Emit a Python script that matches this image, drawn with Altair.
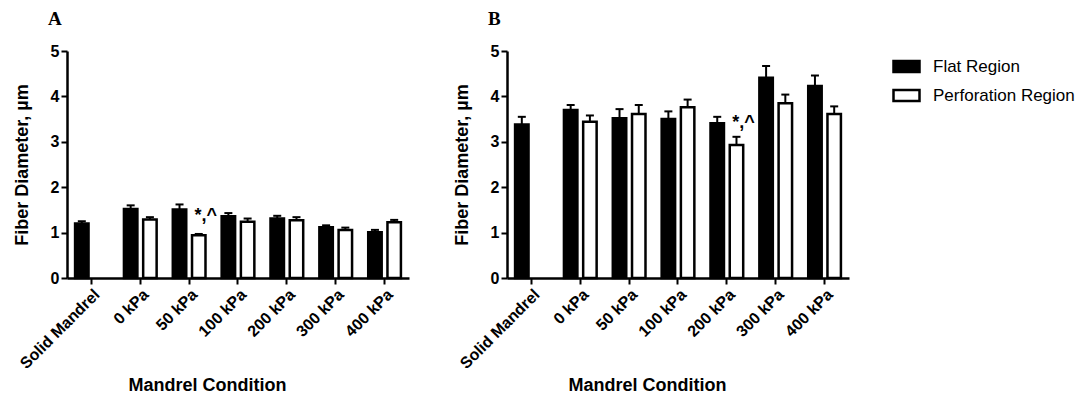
import altair as alt
import pandas as pd

conditions = ["Solid Mandrel", "0 kPa", "50 kPa", "100 kPa", "200 kPa", "300 kPa", "400 kPa"]
regions = ["Flat Region", "Perforation Region"]

# Panel A
flat_A = [1.20, 1.52, 1.51, 1.36, 1.31, 1.12, 1.01]
flat_A_err = [0.05, 0.08, 0.11, 0.07, 0.06, 0.04, 0.05]
perf_A = [None, 1.29, 0.94, 1.24, 1.27, 1.06, 1.23]
perf_A_err = [None, 0.05, 0.03, 0.07, 0.07, 0.05, 0.05]
ann_A = {"cond": "50 kPa", "y": 1.25, "text": "*,^"}

# Panel B
flat_B = [3.38, 3.70, 3.52, 3.50, 3.41, 4.41, 4.23]
flat_B_err = [0.17, 0.11, 0.20, 0.17, 0.14, 0.26, 0.23]
perf_B = [None, 3.44, 3.61, 3.76, 2.93, 3.85, 3.61]
perf_B_err = [None, 0.14, 0.20, 0.17, 0.18, 0.19, 0.17]
ann_B = {"cond": "200 kPa", "y": 3.30, "text": "*,^"}

FONT = "Liberation Sans"


def make_df(flat, flat_err, perf, perf_err):
    rows = []
    for c, v, e in zip(conditions, flat, flat_err):
        rows.append({"cond": c, "region": regions[0], "value": v, "upper": v + e})
    for c, v, e in zip(conditions, perf, perf_err):
        if v is None:
            continue
        rows.append({"cond": c, "region": regions[1], "value": v, "upper": v + e})
    return pd.DataFrame(rows)


def panel(df, ann, letter, show_legend):
    x = alt.X(
        "cond:N",
        sort=conditions,
        scale=alt.Scale(paddingInner=0, paddingOuter=0),
        axis=alt.Axis(
            title="Mandrel Condition",
            labelAngle=-45,
            titleX=140,
            titleY=112,
            titleBaseline="alphabetic",
            titleAlign="center",
        ),
    )
    xo = alt.XOffset(
        "region:N",
        sort=regions,
        scale=alt.Scale(domain=regions, paddingInner=0.3, paddingOuter=0.42),
    )
    yaxis = alt.Axis(
        title="Fiber Diameter, µm",
        values=[0, 1, 2, 3, 4, 5],
        titleX=-40,
        titleY=113.5,
        titleBaseline="alphabetic",
        titleAlign="center",
    )
    y = alt.Y("value:Q", scale=alt.Scale(domain=[0, 5], nice=False), axis=yaxis)
    if show_legend:
        legend = alt.Legend(
            title=None,
            orient="none",
            legendX=385,
            legendY=1,
            padding=0,
            symbolType="M-1,-0.42H1V0.42H-1Z",
            symbolSize=676,
            symbolStrokeColor="black",
            symbolStrokeWidth=2.5,
            labelFont=FONT,
            labelFontSize=17,
            labelFontWeight="normal",
            labelColor="black",
            labelOffset=12,
            rowPadding=4,
        )
    else:
        legend = None
    fill = alt.Fill(
        "region:N",
        scale=alt.Scale(domain=regions, range=["black", "white"]),
        legend=legend,
    )
    bars = alt.Chart(df).mark_bar(stroke="black", strokeWidth=2.5).encode(
        x=x, xOffset=xo, y=y, fill=fill
    )
    rules = alt.Chart(df).mark_rule(color="black", strokeWidth=2).encode(
        x=x, xOffset=xo, y="value:Q", y2="upper:Q"
    )
    caps = alt.Chart(df).mark_tick(color="black", size=8, thickness=2, opacity=1).encode(
        x=x, xOffset=xo, y="upper:Q"
    )
    ann_df = pd.DataFrame([{"cond": ann["cond"], "region": regions[1], "y": ann["y"], "text": ann["text"]}])
    text = alt.Chart(ann_df).mark_text(
        font=FONT, fontSize=18, fontWeight="bold", color="black",
        align="center", baseline="alphabetic", dx=7,
    ).encode(x=x, xOffset=xo, y="y:Q", text="text:N")
    return alt.layer(bars, rules, caps, text).properties(
        width=342,
        height=227,
        title=alt.TitleParams(
            letter, anchor="start", frame="group", font="Liberation Serif", fontSize=19,
            fontWeight="bold", color="black", dx=-19, offset=-1, baseline="alphabetic",
        ),
    )


dfA = make_df(flat_A, flat_A_err, perf_A, perf_A_err)
dfB = make_df(flat_B, flat_B_err, perf_B, perf_B_err)

chart = alt.hconcat(
    panel(dfA, ann_A, "A", False),
    panel(dfB, ann_B, "B", True),
    spacing=43,
).resolve_scale(fill="independent").properties(
    padding={"left": 12, "top": 10, "right": 0, "bottom": 0}
).configure_view(stroke=None).configure_axis(
    domainColor="black",
    domainWidth=2.5,
    tickColor="black",
    tickWidth=2,
    tickSize=6,
    labelFont=FONT,
    labelFontSize=16,
    labelFontWeight="bold",
    labelColor="black",
    labelPadding=2,
    titleFont=FONT,
    titleFontSize=18,
    titleFontWeight="bold",
    titleColor="black",
    grid=False,
)

chart.save("out.html", embed_options={"renderer": "svg", "actions": False})
